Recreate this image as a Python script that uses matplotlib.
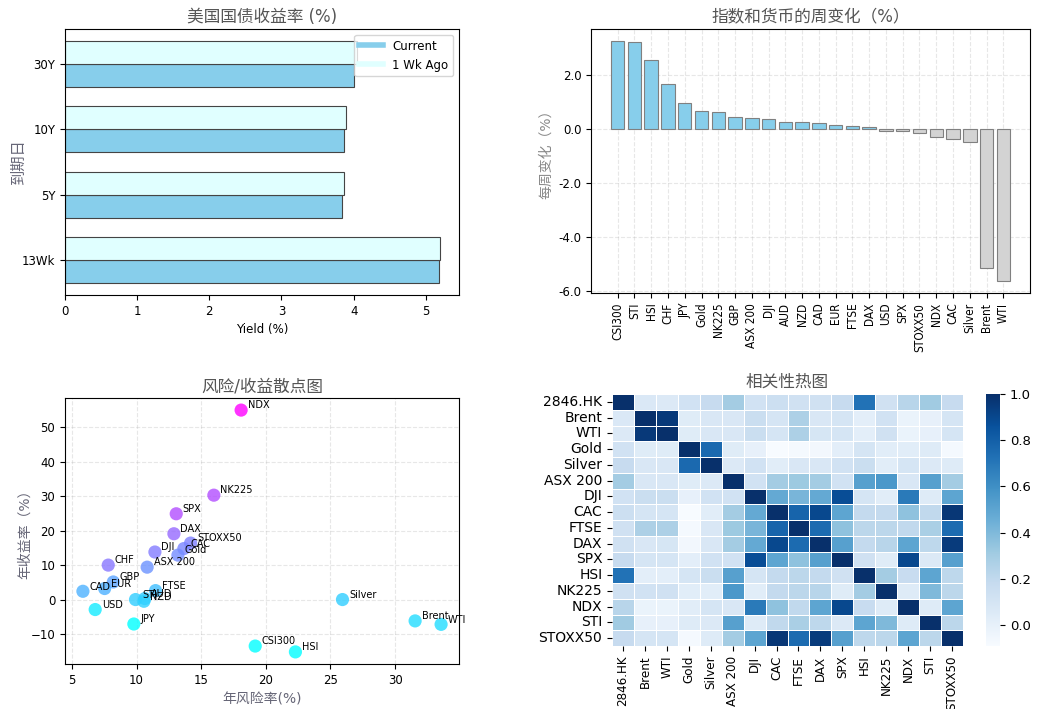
import matplotlib
matplotlib.use('Agg')
import matplotlib.pyplot as plt
from matplotlib.lines import Line2D
from matplotlib.ticker import FormatStrFormatter
from matplotlib import font_manager as fm
import numpy as np
import seaborn as sns

plt.rcParams['font.family'] = ['DejaVu Sans', 'Noto Sans CJK SC']
plt.rcParams['axes.unicode_minus'] = True

# treasury yields
maturities = ['13Wk', '5Y', '10Y', '30Y']
yield_now = [5.18, 3.84, 3.86, 4.01]
yield_1wk = [5.20, 3.87, 3.89, 4.04]

# weekly change
wk_names = ['CSI300', 'STI', 'HSI', 'CHF', 'JPY', 'Gold', 'NK225', 'GBP', 'ASX 200', 'DJI',
            'AUD', 'NZD', 'CAD', 'EUR', 'FTSE', 'DAX', 'USD', 'SPX', 'STOXX50', 'NDX',
            'CAC', 'Silver', 'Brent', 'WTI']
wk_change = [3.26, 3.21, 2.54, 1.67, 0.95, 0.65, 0.63, 0.44, 0.40, 0.38,
             0.27, 0.25, 0.21, 0.14, 0.11, 0.06, -0.09, -0.09, -0.16, -0.31,
             -0.38, -0.49, -5.16, -5.63]

# risk / return
assets = ['NDX', 'NK225', 'SPX', 'DAX', 'STOXX50', 'CAC', 'Gold', 'DJI', 'ASX 200', 'CHF',
          'GBP', 'EUR', 'CAD', 'USD', 'FTSE', 'STI', 'AUD', 'NZD', 'JPY', 'Silver',
          'Brent', 'WTI', 'CSI300', 'HSI']
risk = [18.09, 15.98, 13.07, 12.89, 14.18, 13.66, 13.20, 11.42, 10.82, 7.81,
        8.20, 7.53, 5.85, 6.80, 11.47, 9.92, 10.64, 10.57, 9.79, 25.93,
        31.55, 33.56, 19.18, 22.29]
ret = [55.0, 30.3, 24.9, 19.1, 16.4, 14.8, 12.9, 13.8, 9.4, 10.0,
       5.1, 3.2, 2.4, -2.9, 2.6, 0.0, 0.3, -0.5, -7.1, 0.0,
       -6.2, -7.2, -13.5, -15.2]

# correlation
corr_labels = ['2846.HK', 'Brent', 'WTI', 'Gold', 'Silver', 'ASX 200', 'DJI', 'CAC',
               'FTSE', 'DAX', 'SPX', 'HSI', 'NK225', 'NDX', 'STI', 'STOXX50']
corr = [
    [1.00, 0.07, 0.06, 0.12, 0.18, 0.30, 0.12, 0.15, 0.13, 0.13, 0.18, 0.72, 0.13, 0.23, 0.31, 0.18],
    [0.07, 1.00, 0.96, 0.04, 0.08, 0.08, 0.16, 0.10, 0.27, 0.08, 0.10, 0.02, 0.12, -0.02, 0.00, 0.10],
    [0.06, 0.96, 1.00, 0.04, 0.08, 0.08, 0.16, 0.10, 0.27, 0.09, 0.10, 0.02, 0.13, -0.02, 0.00, 0.10],
    [0.12, 0.04, 0.04, 1.00, 0.76, 0.04, 0.00, -0.09, -0.07, -0.06, 0.02, 0.10, 0.03, 0.03, 0.05, -0.07],
    [0.18, 0.08, 0.08, 0.76, 1.00, 0.06, 0.12, 0.03, 0.08, 0.08, 0.12, 0.16, 0.03, 0.10, 0.06, 0.05],
    [0.30, 0.08, 0.08, 0.04, 0.06, 1.00, 0.12, 0.30, 0.32, 0.30, 0.12, 0.52, 0.56, 0.08, 0.52, 0.30],
    [0.12, 0.16, 0.16, 0.00, 0.12, 0.12, 1.00, 0.48, 0.42, 0.48, 0.88, 0.10, 0.03, 0.69, 0.05, 0.50],
    [0.15, 0.10, 0.10, -0.09, 0.03, 0.30, 0.48, 1.00, 0.78, 0.90, 0.50, 0.19, 0.19, 0.36, 0.20, 0.97],
    [0.13, 0.27, 0.27, -0.07, 0.08, 0.32, 0.42, 0.78, 1.00, 0.75, 0.36, 0.22, 0.22, 0.20, 0.28, 0.75],
    [0.13, 0.08, 0.09, -0.06, 0.08, 0.30, 0.48, 0.90, 0.75, 1.00, 0.52, 0.19, 0.23, 0.50, 0.21, 0.95],
    [0.18, 0.10, 0.10, 0.02, 0.12, 0.12, 0.88, 0.50, 0.36, 0.52, 1.00, 0.13, 0.04, 0.90, 0.06, 0.52],
    [0.72, 0.02, 0.02, 0.10, 0.16, 0.52, 0.10, 0.19, 0.22, 0.19, 0.13, 1.00, 0.30, 0.17, 0.50, 0.21],
    [0.13, 0.12, 0.13, 0.03, 0.03, 0.56, 0.03, 0.19, 0.22, 0.23, 0.04, 0.30, 1.00, 0.05, 0.40, 0.22],
    [0.23, -0.02, -0.02, 0.03, 0.10, 0.08, 0.69, 0.36, 0.20, 0.50, 0.90, 0.17, 0.05, 1.00, 0.05, 0.50],
    [0.31, 0.00, 0.00, 0.05, 0.06, 0.52, 0.05, 0.20, 0.28, 0.21, 0.06, 0.50, 0.40, 0.05, 1.00, 0.22],
    [0.18, 0.10, 0.10, -0.07, 0.05, 0.30, 0.50, 0.97, 0.75, 0.95, 0.52, 0.21, 0.22, 0.50, 0.22, 1.00],
]

W, H = 1048, 709
fig = plt.figure(figsize=(W / 100, H / 100), dpi=100)


def box(l, r, t, b):
    return [l / W, 1 - b / H, (r - l) / W, (b - t) / H]


def narrow_font():
    # rotated labels in the original look squeezed; use a condensed face if there is one
    for f in fm.fontManager.ttflist:
        name = (f.name + f.fname).lower()
        if ('narrow' in name or 'condensed' in name) and f.style == 'normal' \
                and str(f.weight) in ('400', 'normal', 'regular', 'book'):
            return fm.FontProperties(fname=f.fname), True
    return fm.FontProperties(family='DejaVu Sans'), False


nfp, is_narrow = narrow_font()

title_c = '#555555'
label_c = '#666677'

# --- yields
ax1 = fig.add_axes(box(65, 459, 29, 295))
y = np.arange(len(maturities))
h = 0.35
ax1.barh(y - h / 2, yield_now, height=h, color='skyblue', edgecolor='#444444', linewidth=0.8)
ax1.barh(y + h / 2, yield_1wk, height=h, color='lightcyan', edgecolor='#444444', linewidth=0.8)
ax1.set_yticks(y)
ax1.set_yticklabels(maturities)
ax1.tick_params(labelsize=8.5)
ax1.set_xlabel('Yield (%)', fontsize=8.5)
ax1.set_ylabel('到期日', fontsize=11, color=label_c)
ax1.yaxis.set_label_coords(-0.10, 0.5)
ax1.set_title('美国国债收益率 (%)', fontsize=12, color=title_c, pad=5)
handles = [Line2D([0], [0], color='skyblue', lw=4), Line2D([0], [0], color='lightcyan', lw=4)]
ax1.legend(handles, ['Current', '1 Wk Ago'], loc='upper right', fontsize=8.5)

# --- weekly change
ax2 = fig.add_axes(box(591, 1030, 29, 293))
x = np.arange(len(wk_names))
cols = ['skyblue' if v >= 0 else 'lightgray' for v in wk_change]
ax2.bar(x, wk_change, color=cols, edgecolor='gray', linewidth=0.8, zorder=3)
ax2.set_xticks(x)
ax2.set_xticklabels(wk_names, rotation=90, fontproperties=nfp,
                    size=8.5 if is_narrow else 7.5)
ax2.yaxis.set_major_formatter(FormatStrFormatter('%.1f'))
ax2.tick_params(axis='y', labelsize=8.5)
ax2.grid(True, linestyle='--', alpha=0.3)
ax2.set_ylabel('每周变化（%）', fontsize=10, color='#888888')
ax2.yaxis.set_label_coords(-0.087, 0.54)
ax2.set_title('指数和货币的周变化（%）', fontsize=12, color=title_c, pad=5)

# --- risk / return
ax3 = fig.add_axes(box(65, 459, 398, 664))
ratio = np.array(ret) / np.array(risk)
ax3.scatter(risk, ret, c=ratio, cmap='cool', s=90, alpha=0.8, edgecolors='none', zorder=3)
for n, rx, ry in zip(assets, risk, ret):
    ax3.text(rx + 0.5, ry + 0.5, n, fontsize=7, zorder=4)
ax3.grid(True, linestyle='--', alpha=0.3)
ax3.tick_params(labelsize=8.5)
ax3.set_xlabel('年风险率(%)', fontsize=10, color=label_c)
ax3.set_ylabel('年收益率（%）', fontsize=10, color=label_c)
ax3.yaxis.set_label_coords(-0.084, 0.5)
ax3.set_title('风险/收益散点图', fontsize=12, color=title_c, pad=5)

# --- heatmap
ax4 = fig.add_axes(box(612, 963, 394, 646))
cax = fig.add_axes(box(986, 1000, 394, 646))
sns.heatmap(np.array(corr), ax=ax4, cbar_ax=cax, cmap='Blues', linewidths=0.5,
            linecolor='white', xticklabels=corr_labels, yticklabels=corr_labels)
ax4.set_xticklabels(corr_labels, rotation=90, fontproperties=nfp,
                    size=9.5 if is_narrow else 8.4)
ax4.set_yticklabels(corr_labels, rotation=0, fontsize=10)
cax.tick_params(labelsize=9.5)
ax4.set_title('相关性热图', fontsize=12, color=title_c, pad=5)

fig.savefig('out.png', dpi=100)
